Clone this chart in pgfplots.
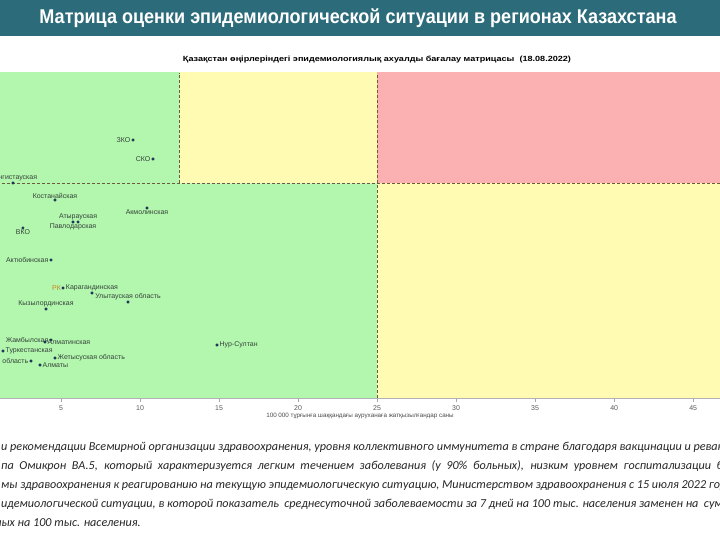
\documentclass[border=0pt]{standalone}
\usepackage{graphicx}
\usepackage{pgfplots}
\pgfplotsset{compat=1.18}
\usepackage{fontspec}
\setmainfont{Liberation Sans}
\newfontfamily\bodyfont{Carlito}
\definecolor{barcol}{HTML}{2C6B7A}
\definecolor{zgreen}{HTML}{B3F7AE}
\definecolor{zyellow}{HTML}{FFFBB3}
\definecolor{zred}{HTML}{FBB1B1}
\definecolor{dashcol}{HTML}{6E5A3C}
\definecolor{ptcol}{HTML}{1B2E55}
\definecolor{labcol}{HTML}{34433A}
\definecolor{rkcol}{HTML}{C8861E}
\begin{document}
\begin{tikzpicture}[x=1bp,y=1bp]
\fill[white] (0,0) rectangle (720,540);
\fill[barcol] (0,504) rectangle (720,540);
\node[white,font=\bfseries\fontsize{20}{20}\selectfont] at (358,522) {\resizebox{637bp}{\height}{Матрица оценки эпидемиологической ситуации в регионах Казахстана}};
\node[font=\bfseries\fontsize{7.5}{7.5}\selectfont] at (377,480) {\resizebox{388bp}{\height}{Қазақстан өңірлеріндегі эпидемиологиялық ахуалды бағалау матрицасы\ \ (18.08.2022)}};
\begin{axis}[at={(0bp,142bp)}, anchor=south west, scale only axis,
  width=720bp, height=325bp,
  xmin=1.14, xmax=46.7, ymin=0, ymax=325,
  axis x line*=bottom, axis y line=none,
  x axis line style={gray!60, line width=0.5pt, -},
  xtick={5,10,...,45}, tick align=outside, major tick length=4bp,
  tick style={gray!70, line width=0.5pt},
  xticklabel style={font=\fontsize{7}{7}\selectfont, text=black!65, yshift=0bp},
  /pgf/number format/assume math mode=true,
  xlabel={100 000 тұрғынға шаққандағы ауруханаға жатқызылғандар саны},
  xlabel style={font=\fontsize{6.3}{6.3}\selectfont, text=black!70, yshift=4bp},
  clip=true]
\addplot[fill=zgreen, draw=none] coordinates {(0,0)(25,0)(25,214.5)(12.5,214.5)(12.5,330)(0,330)} -- cycle;
\addplot[fill=zyellow, draw=none] coordinates {(12.5,214.5)(25,214.5)(25,330)(12.5,330)} -- cycle;
\addplot[fill=zyellow, draw=none] coordinates {(25,0)(50,0)(50,214.5)(25,214.5)} -- cycle;
\addplot[fill=zred, draw=none] coordinates {(25,214.5)(50,214.5)(50,330)(25,330)} -- cycle;
\addplot[dashcol, line width=0.8pt, dash pattern=on 3bp off 2bp] coordinates {(0,214.5)(50,214.5)};
\addplot[dashcol, line width=0.8pt, dash pattern=on 3bp off 2bp] coordinates {(12.5,214.5)(12.5,325)};
\addplot[dashcol, line width=0.8pt, dash pattern=on 3bp off 2bp] coordinates {(25,0)(25,325)};
% labels to the left
\addplot[only marks, mark=*, mark size=1.3bp, ptcol, point meta=explicit symbolic,
  nodes near coords, every node near coord/.style={anchor=east, inner sep=2.5bp, font=\fontsize{7}{7}\selectfont, text=labcol}]
  table[meta=label, row sep=\\] {
  x y label\\
  9.56 258 ЗКО\\
  10.82 239 СКО\\
  4.37 138 Актюбинская\\
  4.37 58 Жамбылская\\
  3.10 37 {Абайская область}\\
  };
\addplot[only marks, mark=*, mark size=1.3bp, ptcol, point meta=explicit symbolic,
  nodes near coords, every node near coord/.style={anchor=east, inner sep=2bp, font=\fontsize{7}{7}\selectfont, text=rkcol}]
  table[meta=label, row sep=\\] {
  x y label\\
  5.13 110 РК\\
  };
% labels above
\addplot[only marks, mark=*, mark size=1.3bp, ptcol, point meta=explicit symbolic,
  nodes near coords, every node near coord/.style={anchor=south, inner sep=1.5bp, font=\fontsize{7}{7}\selectfont, text=labcol}]
  table[meta=label, row sep=\\] {
  x y label\\
  1.96 215 Мангистауская\\
  4.62 198 Костанайская\\
  6.08 176 Атырауская\\
  6.96 105 Карагандинская\\
  9.24 96 {Улытауская область}\\
  4.05 89 Кызылординская\\
  };
% labels below
\addplot[only marks, mark=*, mark size=1.3bp, ptcol, point meta=explicit symbolic,
  nodes near coords, every node near coord/.style={anchor=north, inner sep=1.5bp, font=\fontsize{7}{7}\selectfont, text=labcol}]
  table[meta=label, row sep=\\] {
  x y label\\
  10.44 190 Акмолинская\\
  5.76 176 Павлодарская\\
  2.59 170 ВКО\\
  };
% labels to the right
\addplot[only marks, mark=*, mark size=1.3bp, ptcol, point meta=explicit symbolic,
  nodes near coords, every node near coord/.style={anchor=west, inner sep=2.5bp, font=\fontsize{7}{7}\selectfont, text=labcol}]
  table[meta=label, row sep=\\] {
  x y label\\
  3.99 56 Алматинская\\
  1.33 47 Туркестанская\\
  3.67 33 Алматы\\
  4.62 40 {Жетысуская область}\\
  14.87 53 Нур-Султан\\
  };
\end{axis}
\begin{scope}[every node/.style={anchor=base west, inner sep=0pt, font=\bodyfont\itshape\fontsize{12.2}{12.2}\selectfont, text=black!85}]
\node at (1,89) {и рекомендации Всемирной организации здравоохранения, уровня коллективного иммунитета в стране благодаря вакцинации и ревакцинации,};
\node at (1,70) {\makebox[722bp][s]{па Омикрон ВА.5, который характеризуется легким течением заболевания (у 90\% больных), низким уровнем госпитализации б}};
\node at (1,51) {мы здравоохранения к реагированию на текущую эпидемиологическую ситуацию, Министерством здравоохранения с 15 июля 2022 года};
\node at (1,32) {идемиологической ситуации, в которой показатель\ \ среднесуточной заболеваемости за 7 дней на 100 тыс. населения заменен на\ \ суммарное};
\node at (-5,13) {ных на 100 тыс. населения.};
\end{scope}
\pgfresetboundingbox
\useasboundingbox (0,0) rectangle (720,540);
\end{tikzpicture}
\end{document}
